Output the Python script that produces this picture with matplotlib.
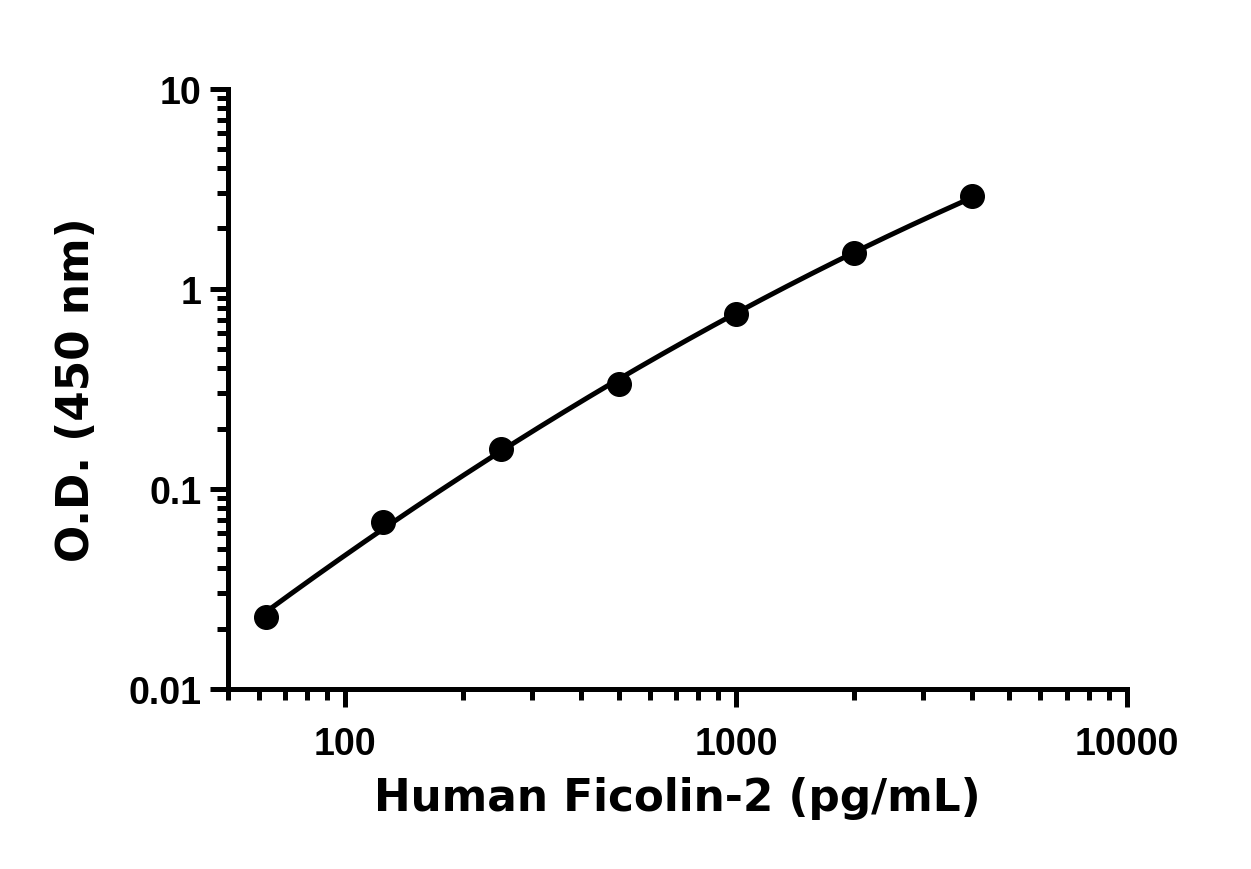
import numpy as np
import matplotlib
matplotlib.use("Agg")
import matplotlib.pyplot as plt
from matplotlib.ticker import FixedLocator, LogLocator, NullFormatter, FixedFormatter

# standard curve values
conc = [62.5, 125, 250, 500, 1000, 2000, 4000]
od = [0.023, 0.068, 0.158, 0.335, 0.75, 1.5, 2.9]

xticks = [100, 1000, 10000]
xticklabels = ["100", "1000", "10000"]
yticks = [0.01, 0.1, 1, 10]
yticklabels = ["0.01", "0.1", "1", "10"]

tick_font = ["Liberation Sans Narrow", "Liberation Sans", "DejaVu Sans"]
label_font = ["DejaVu Sans"]

fig = plt.figure(figsize=(12.51, 8.70), dpi=100)
ax = fig.add_axes([0.182, 0.207, 0.719, 0.690])

# smooth fit in log-log space (quadratic), drawn through the data
lx = np.log10(conc)
ly = np.log10(od)
coef = np.polyfit(lx, ly, 2)
fx = np.linspace(lx[0], lx[-1], 200)
ax.plot(10 ** fx, 10 ** np.polyval(coef, fx), color="black", lw=3.6, zorder=2)
ax.plot(conc, od, "o", color="black", ms=17, zorder=3, clip_on=False)

ax.set_xscale("log")
ax.set_yscale("log")
ax.set_xlim(50, 10000)
ax.set_ylim(0.01, 10)

for s in ["top", "right"]:
    ax.spines[s].set_visible(False)
for s in ["left", "bottom"]:
    ax.spines[s].set_linewidth(3.6)

ax.xaxis.set_major_locator(FixedLocator(xticks))
ax.xaxis.set_major_formatter(FixedFormatter(xticklabels))
ax.yaxis.set_major_locator(FixedLocator(yticks))
ax.yaxis.set_major_formatter(FixedFormatter(yticklabels))
ax.xaxis.set_minor_locator(LogLocator(base=10, subs=np.arange(2, 10)))
ax.yaxis.set_minor_locator(LogLocator(base=10, subs=np.arange(2, 10)))
ax.xaxis.set_minor_formatter(NullFormatter())
ax.yaxis.set_minor_formatter(NullFormatter())

ax.tick_params(which="major", length=13, width=3.6, direction="out")
ax.tick_params(which="minor", length=8, width=3.6, direction="out")
ax.tick_params(axis="x", which="major", pad=14)
ax.tick_params(axis="y", which="major", pad=6)

for lab in ax.get_xticklabels() + ax.get_yticklabels():
    lab.set_family(tick_font)
    lab.set_fontweight("bold")
    lab.set_fontsize(27)

ax.set_xlabel("Human Ficolin-2 (pg/mL)", family=label_font, fontweight="bold",
              fontsize=31.5, labelpad=10)
ax.set_ylabel("O.D. (450 nm)", family=label_font, fontweight="bold",
              fontsize=31.5, labelpad=22)

fig.savefig("out.png", dpi=100)
